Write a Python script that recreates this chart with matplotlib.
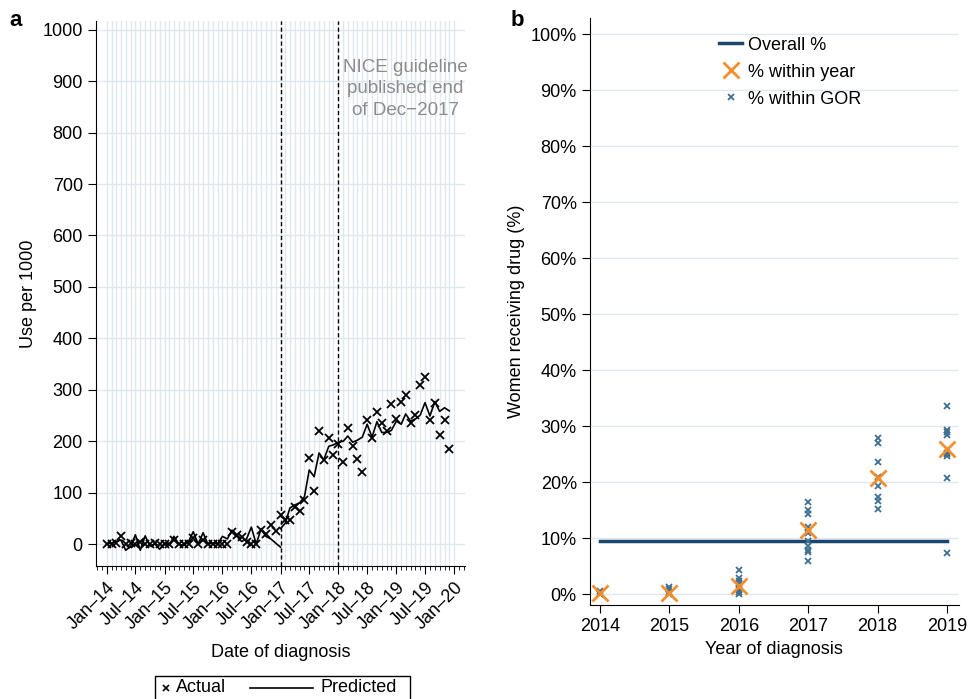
import matplotlib
matplotlib.use("Agg")
import matplotlib.pyplot as plt
import matplotlib.dates as mdates
from matplotlib.lines import Line2D
from matplotlib.patches import Rectangle
from matplotlib.ticker import FuncFormatter
import numpy as np
import pandas as pd

plt.rcParams['font.family'] = ['Liberation Sans', 'DejaVu Sans']
plt.rcParams['font.size'] = 12

# panel a: monthly use per 1000, Jan-14 .. Dec-19
months = pd.date_range("2014-01-01", periods=72, freq="MS")
actual = [0, 0, 2, 16, 0, 3, 0, 5, 0, 0, 3, 0,
          0, 0, 8, 0, 0, 0, 12, 0, 8, 0, 0, 0,
          0, 0, 24, 18, 14, 5, 0, 0, 28, 20, 38, 26,
          56, 46, 47, 72, 64, 85, 168, 103, 220, 163, 206, 174,
          195, 159, 225, 191, 165, 140, 242, 207, 256, 235, 220, 273,
          243, 277, 290, 235, 250, 309, 324, 242, 274, 212, 242, 185]
pred_pre = [0, 2, 5, 8, -12, -5, 18, -12, 16, -4, 0, -10,
            2, -2, 15, 0, -3, 5, 24, 0, 22, 0, 2, 0,
            15, 10, 27, 15, 5, 10, 33, 0, 30, 15, 10, 2, -6]
pred_post = [30, 41, 70, 76, 80, 92, 144, 131, 177, 164, 190, 193,
             198, 200, 210, 198, 202, 208, 233, 208, 238, 217, 217, 221,
             239, 233, 253, 239, 243, 251, 275, 249, 277, 258, 265, 259]
cutoffs = ["2017-01-01", "2018-01-01"]

# panel b: share of women receiving drug (%)
years = [2014, 2015, 2016, 2017, 2018, 2019]
overall_pct = 9.6
year_pct = [0.2, 0.3, 1.5, 11.5, 20.8, 26.0]
gor_pct = [
    [0.6, 0.3, 0.1, 0.0, 0.0],
    [1.3, 0.9, 0.5, 0.2, 0.0, 0.0],
    [4.3, 2.9, 2.4, 1.8, 1.2, 0.8, 0.4, 0.0],
    [16.4, 15.1, 14.3, 12.0, 11.0, 9.6, 8.6, 8.0, 7.6, 5.9],
    [27.9, 27.1, 23.7, 21.0, 19.4, 17.4, 16.6, 15.3],
    [33.6, 29.4, 29.0, 28.4, 25.3, 24.7, 25.0, 20.8, 7.4],
]

grid_col = "#dfe8ec"
navy = "#1a476f"
orange = "#f28e2b"
steel = "#3e6f91"

W, H = 968, 699
fig = plt.figure(figsize=(9.68, 6.99), dpi=100)
ax1 = fig.add_axes([0.0992, 0.190, 0.381, 0.780])
ax2 = fig.add_axes([0.6095, 0.1345, 0.381, 0.840])

# ---- panel a
for d in pd.date_range("2014-01-01", "2020-01-01", freq="MS"):
    ax1.axvline(d, color=grid_col, lw=1, zorder=0)
for v in range(0, 1001, 100):
    ax1.axhline(v, color=grid_col, lw=1, zorder=0)
for c in cutoffs:
    ax1.axvline(pd.Timestamp(c), color="black", lw=1, ls=(0, (3, 2)), zorder=2)

ax1.plot(months[:37], pred_pre, color="black", lw=1.2, zorder=3)
ax1.plot(months[36:], pred_post, color="black", lw=1.2, zorder=3)
ax1.plot(months, actual, ls="none", marker="x", color="black", ms=6, mew=1.3, zorder=4)

ax1.set_ylim(-43, 1017)
ax1.set_xlim(pd.Timestamp("2013-10-26"), pd.Timestamp("2020-03-08"))
ax1.set_yticks(range(0, 1001, 100))
ax1.xaxis.set_major_locator(mdates.MonthLocator(bymonth=[1, 7]))
ax1.xaxis.set_minor_locator(mdates.MonthLocator())
ax1.xaxis.set_major_formatter(FuncFormatter(
    lambda x, p: mdates.num2date(x).strftime("%b") + "\u2013" + mdates.num2date(x).strftime("%y")))
plt.setp(ax1.get_xticklabels(), rotation=45, ha="right", rotation_mode="anchor")
ax1.tick_params(axis="x", which="major", length=6, labelsize=13)
ax1.tick_params(axis="x", which="minor", length=3)
ax1.tick_params(axis="y", length=6, labelsize=13)
for s in ["top", "right"]:
    ax1.spines[s].set_visible(False)
ax1.set_ylabel("Use per 1000", fontsize=13)
ax1.set_xlabel("Date of diagnosis", fontsize=13, labelpad=8)
ax1.text(pd.Timestamp("2019-03-01"), 885, "NICE guideline\npublished end\nof Dec\u22122017",
         ha="center", va="center", color="#8c8c8c", fontsize=13.5, linespacing=1.35)

# legend under panel a, drawn by hand (short marker key, long line key)
fig.patches.append(Rectangle((155 / W, -0.02), 255 / W, 0.02 + 1 - 676 / H,
                             transform=fig.transFigure, fill=False, ec="black", lw=1))
ly = 1 - 688 / H
fig.lines.append(Line2D([166 / W], [ly], transform=fig.transFigure, ls="none",
                        marker="x", color="black", ms=5, mew=1.2))
fig.text(176 / W, ly, "Actual", fontsize=13, va="center")
fig.lines.append(Line2D([250 / W, 313 / W], [ly, ly], transform=fig.transFigure,
                        color="black", lw=1.2))
fig.text(320 / W, ly, "Predicted", fontsize=13, va="center")

# ---- panel b
for v in range(0, 101, 10):
    ax2.axhline(v, color=grid_col, lw=1, zorder=0)
ax2.plot([years[0], years[-1]], [overall_pct, overall_pct], color=navy, lw=2.5, zorder=2,
         label="Overall %")
ax2.plot(years, year_pct, ls="none", marker="x", color=orange, ms=11, mew=2, zorder=4,
         label="% within year")
for i, yr in enumerate(years):
    ax2.plot([yr] * len(gor_pct[i]), gor_pct[i], ls="none", marker="x", color=steel,
             ms=4, mew=1.3, zorder=3, label="% within GOR" if i == 0 else None)

ax2.set_xlim(2013.855, 2019.17)
ax2.set_ylim(-1.9, 102.9)
ax2.set_xticks(years)
ax2.set_yticks(range(0, 101, 10))
ax2.yaxis.set_major_formatter(FuncFormatter(lambda v, p: f"{int(v)}%"))
ax2.tick_params(length=6, labelsize=13)
for s in ["top", "right"]:
    ax2.spines[s].set_visible(False)
ax2.set_ylabel("Women receiving drug (%)", fontsize=13)
ax2.set_xlabel("Year of diagnosis", fontsize=13, labelpad=4)
ax2.legend(loc="upper left", bbox_to_anchor=(0.33, 0.98), frameon=False, fontsize=13,
           handlelength=1.3, handletextpad=0.3, labelspacing=0.55, borderaxespad=0)

fig.text(0.010, 0.963, "a", fontsize=16, fontweight="bold")
fig.text(0.527, 0.963, "b", fontsize=16, fontweight="bold")

fig.savefig("out.png", dpi=100)
